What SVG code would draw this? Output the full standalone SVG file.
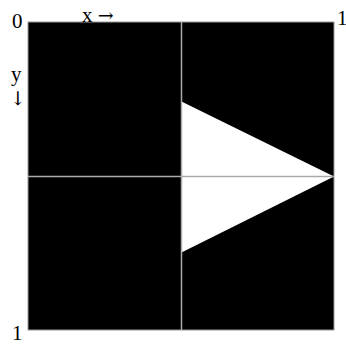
<svg xmlns="http://www.w3.org/2000/svg" width="346" height="345" viewBox="0 0 346 345">
<style>
.t{font-family:"Liberation Serif","Times New Roman",serif;font-size:21px;fill:#000}
.a{font-family:"DejaVu Serif","DejaVu Sans",serif;font-size:19px;fill:#000}
.g{stroke:#aaa;stroke-width:1.5;fill:none}
</style>
<rect width="346" height="345" fill="#fff"/>
<g id="square">
<rect x="28" y="22" width="306" height="308" fill="#000" stroke="#999" stroke-width="1"/>
</g>
<g id="triangle">
<polygon points="181.5,101.5 334,176.5 181.5,252.5" fill="#fff"/>
</g>
<g id="connectors">
<line class="g" x1="181.5" y1="22" x2="181.5" y2="330"/>
<line class="g" x1="28" y1="176.5" x2="334" y2="176.5"/>
</g>
<g id="labels">
<text class="t" x="12" y="28">0</text>
<text class="t" x="82" y="22">x <tspan class="a">→</tspan></text>
<text class="t" x="337" y="25">1</text>
<text class="t" x="11" y="81">y</text>
<text class="a" x="10" y="105">↓</text>
<text class="t" x="12" y="340">1</text>
</g>
</svg>
